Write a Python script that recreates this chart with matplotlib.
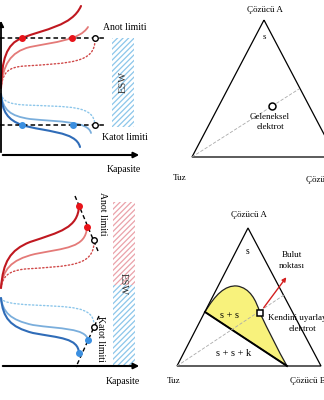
import matplotlib
matplotlib.use("Agg")
import matplotlib.pyplot as plt
from matplotlib.path import Path
from matplotlib.patches import PathPatch, Rectangle, Polygon

plt.rcParams['font.family'] = ['Liberation Serif', 'DejaVu Serif']
plt.rcParams['hatch.linewidth'] = 0.9

# --- sol ust panel: egriler (baslangic + kubik bezier parcalari) ---
ust_kirmizi_koyu = [(1, 88), (2, 60), (6, 44), (22, 38), (45, 29), (72, 26), (81, 6)]
ust_kirmizi_acik = [(1, 88), (3, 65), (10, 52), (30, 47), (55, 42), (80, 40), (88, 27)]
ust_kirmizi_nokta = [(1, 88), (3, 72), (8, 67), (25, 66), (70, 63), (95, 63), (95, 40)]
ust_mavi_koyu = [(1, 94), (2, 112), (8, 120), (22, 125), (45, 132), (76, 131), (80, 147)]
ust_mavi_acik = [(1, 94), (3, 110), (10, 116), (30, 119), (60, 122), (88, 121), (91, 133)]
ust_mavi_nokta = [(1, 94), (3, 101), (8, 104), (25, 105), (70, 107), (94, 105), (95, 125)]
ust_anot_x = [22, 72]
ust_katot_x = [22, 73]
ust_acik_x = 95
ust_anot_y, ust_katot_y = 38, 125

# --- sol alt panel ---
alt_kirmizi_koyu = [(1, 288), (3, 262), (10, 250), (30, 242), (60, 232), (78, 228), (79, 206)]
alt_kirmizi_acik = [(1, 288), (3, 270), (10, 260), (35, 254), (65, 248), (86, 248), (87, 227)]
alt_kirmizi_nokta = [(1, 288), (3, 276), (8, 271), (25, 269), (70, 266), (93, 266), (94, 243)]
alt_mavi_koyu = [(1, 298), (3, 318), (10, 327), (33, 333), (60, 338), (78, 338), (79, 353)]
alt_mavi_acik = [(1, 298), (3, 312), (10, 320), (33, 325), (60, 329), (86, 328), (88, 340)]
alt_mavi_nokta = [(1, 298), (3, 302), (10, 304), (33, 305), (70, 307), (93, 306), (94, 324)]
alt_anot_nokta = [(79, 206), (87, 227)]
alt_anot_acik = (94, 240)
alt_anot_cizgi = [(75, 196), (98, 251)]
alt_katot_nokta = [(79, 353), (88, 340)]
alt_katot_acik = (94, 327)
alt_katot_cizgi = [(99, 316), (76, 367)]

# --- ucgenler ---
ucgen_ust = [(264, 20), (192, 157), (336, 157)]
ucgen_alt = [(248, 228), (177, 366), (321, 366)]
ust_kesik = [(192, 157), (299, 89)]
ust_elektrot = (272, 106)
alt_kesik = [(177, 366), (284, 295)]
alt_elektrot = (260, 313)
sari_bolge = [(205, 312), (215, 295), (225, 285), (237, 286), (250, 288), (256, 300),
              (260, 313), (268, 330), (278, 350), (287, 366)]
bag_cizgisi = [(205, 312), (287, 366)]
bulut_ok = [(262, 310), (288, 275)]

KR_KOYU, KR_ACIK, KR_NOKTA, KR_ISARET = '#c01820', '#e47a78', '#d04848', '#e8141a'
MV_KOYU, MV_ACIK, MV_NOKTA, MV_ISARET = '#2f6cb8', '#7aaedc', '#8cc6ea', '#3b8fe0'


def egri(ax, pts, color, lw, ls='-'):
    codes = [Path.MOVETO] + [Path.CURVE4] * (len(pts) - 1)
    ax.add_patch(PathPatch(Path(pts, codes), fill=False, ec=color, lw=lw, ls=ls,
                           capstyle='round'))


fig = plt.figure(figsize=(3.24, 4.0), dpi=100)
ax = fig.add_axes([0, 0, 1, 1])
ax.set_xlim(0, 324)
ax.set_ylim(400, 0)
ax.axis('off')

# ---------- sol ust ----------
ax.annotate('', xy=(1, 18), xytext=(1, 155),
            arrowprops=dict(arrowstyle='-|>', color='black', lw=1.3, mutation_scale=8))
ax.annotate('', xy=(142, 155), xytext=(0, 155),
            arrowprops=dict(arrowstyle='-|>', color='black', lw=1.5, mutation_scale=8))
ax.add_patch(Rectangle((112, 38), 22, 89, fill=False, hatch='//////', ec=MV_NOKTA, lw=0))
ax.text(123, 82, 'ESW', rotation=90, ha='center', va='center', fontsize=7.5, color='#333333')

for pts, c, lw, ls in [(ust_kirmizi_nokta, KR_NOKTA, 1.0, ':'), (ust_kirmizi_acik, KR_ACIK, 1.3, '-'),
                       (ust_kirmizi_koyu, KR_KOYU, 1.5, '-'), (ust_mavi_nokta, MV_NOKTA, 1.0, ':'),
                       (ust_mavi_acik, MV_ACIK, 1.3, '-'), (ust_mavi_koyu, MV_KOYU, 1.5, '-')]:
    egri(ax, pts, c, lw, ls)

ax.plot([0, 105], [ust_anot_y, ust_anot_y], ls=(0, (3, 2)), color='black', lw=1.1)
ax.plot([0, 105], [ust_katot_y, ust_katot_y], ls=(0, (3, 2)), color='black', lw=1.1)
ax.plot(ust_anot_x, [ust_anot_y] * 2, 'o', color=KR_ISARET, ms=4)
ax.plot(ust_katot_x, [ust_katot_y] * 2, 'o', color=MV_ISARET, ms=4)
ax.plot([ust_acik_x] * 2, [ust_anot_y, ust_katot_y], 'o', mfc='white', mec='black', ms=4, mew=1)
ax.text(125, 27, 'Anot limiti', ha='center', va='center', fontsize=7)
ax.text(125, 138, 'Katot limiti', ha='center', va='center', fontsize=7)
ax.text(124, 169, 'Kapasite', ha='center', va='center', fontsize=7)

# ---------- sol alt ----------
ax.annotate('', xy=(142, 366), xytext=(0, 366),
            arrowprops=dict(arrowstyle='-|>', color='black', lw=1.5, mutation_scale=8))
ax.add_patch(Rectangle((113, 202), 22, 83, fill=False, hatch='//////', ec='#eaa2aa', lw=0))
ax.add_patch(Rectangle((113, 285), 22, 80, fill=False, hatch='//////', ec=MV_NOKTA, lw=0))
ax.text(123, 284, 'ESW', rotation=-90, ha='center', va='center', fontsize=7.5, color='#333333')

for pts, c, lw, ls in [(alt_kirmizi_nokta, KR_NOKTA, 1.0, ':'), (alt_kirmizi_acik, KR_ACIK, 1.3, '-'),
                       (alt_kirmizi_koyu, KR_KOYU, 1.5, '-'), (alt_mavi_nokta, MV_NOKTA, 1.0, ':'),
                       (alt_mavi_acik, MV_ACIK, 1.3, '-'), (alt_mavi_koyu, MV_KOYU, 1.5, '-')]:
    egri(ax, pts, c, lw, ls)

for cz in (alt_anot_cizgi, alt_katot_cizgi):
    ax.plot([p[0] for p in cz], [p[1] for p in cz], ls=(0, (3, 2)), color='black', lw=1.0)
ax.plot([p[0] for p in alt_anot_nokta], [p[1] for p in alt_anot_nokta], 'o', color=KR_ISARET, ms=4)
ax.plot([p[0] for p in alt_katot_nokta], [p[1] for p in alt_katot_nokta], 'o', color=MV_ISARET, ms=4)
for p in (alt_anot_acik, alt_katot_acik):
    ax.plot(p[0], p[1], 'o', mfc='white', mec='black', ms=4, mew=1)
ax.text(102, 214, 'Anot limiti', rotation=-90, ha='center', va='center', fontsize=7)
ax.text(101, 339, 'Katot limiti', rotation=-90, ha='center', va='center', fontsize=7)
ax.text(123, 381, 'Kapasite', ha='center', va='center', fontsize=7)

# ---------- sag ust ucgen ----------
ax.add_patch(Polygon(ucgen_ust, closed=True, fill=False, ec='black', lw=0.9))
ax.plot([p[0] for p in ust_kesik], [p[1] for p in ust_kesik], ls=(0, (4, 2)), color='#aaaaaa', lw=0.6)
ax.plot(*ust_elektrot, 'o', mfc='white', mec='black', ms=5, mew=1.1)
ax.text(265, 10, 'Çözücü A', ha='center', va='center', fontsize=6.5)
ax.text(264, 37, 's', ha='center', va='center', fontsize=6.5)
ax.text(270, 117, 'Geleneksel', ha='center', va='center', fontsize=6.5)
ax.text(270, 127, 'elektrot', ha='center', va='center', fontsize=6.5)
ax.text(180, 178, 'Tuz', ha='center', va='center', fontsize=6.5)
ax.text(306, 180, 'Çözücü B', ha='left', va='center', fontsize=6.5)

# ---------- sag alt ucgen ----------
sari_kod = [Path.MOVETO] + [Path.CURVE4] * 9 + [Path.CLOSEPOLY]
ax.add_patch(PathPatch(Path(sari_bolge + [sari_bolge[0]], sari_kod), fc='#f8f27c', ec='#222222', lw=0.9))
ax.plot([p[0] for p in bag_cizgisi], [p[1] for p in bag_cizgisi], color='black', lw=1.4)
ax.add_patch(Polygon(ucgen_alt, closed=True, fill=False, ec='black', lw=0.9))
ax.plot([p[0] for p in alt_kesik], [p[1] for p in alt_kesik], ls=(0, (4, 2)), color='#aaaaaa', lw=0.6)
ax.annotate('', xy=bulut_ok[1], xytext=bulut_ok[0],
            arrowprops=dict(arrowstyle='-|>', color='#d42020', lw=1.0, mutation_scale=6))
ax.plot(*alt_elektrot, 's', mfc='white', mec='black', ms=4.5, mew=1.1)
ax.text(249, 215, 'Çözücü A', ha='center', va='center', fontsize=6.5)
ax.text(248, 251, 's', ha='center', va='center', fontsize=7)
ax.text(292, 255, 'Bulut', ha='center', va='center', fontsize=6.5)
ax.text(292, 266, 'noktası', ha='center', va='center', fontsize=6.5)
ax.text(230, 315, 's + s', ha='center', va='center', fontsize=7.5)
ax.text(234, 354, 's + s + k', ha='center', va='center', fontsize=7.5)
ax.text(268, 318, 'Kendini uyarlayan', ha='left', va='center', fontsize=6.5)
ax.text(302, 329, 'elektrot', ha='center', va='center', fontsize=6.5)
ax.text(174, 381, 'Tuz', ha='center', va='center', fontsize=6.5)
ax.text(290, 381, 'Çözücü B', ha='left', va='center', fontsize=6.5)

fig.savefig('out.png', dpi=100)
